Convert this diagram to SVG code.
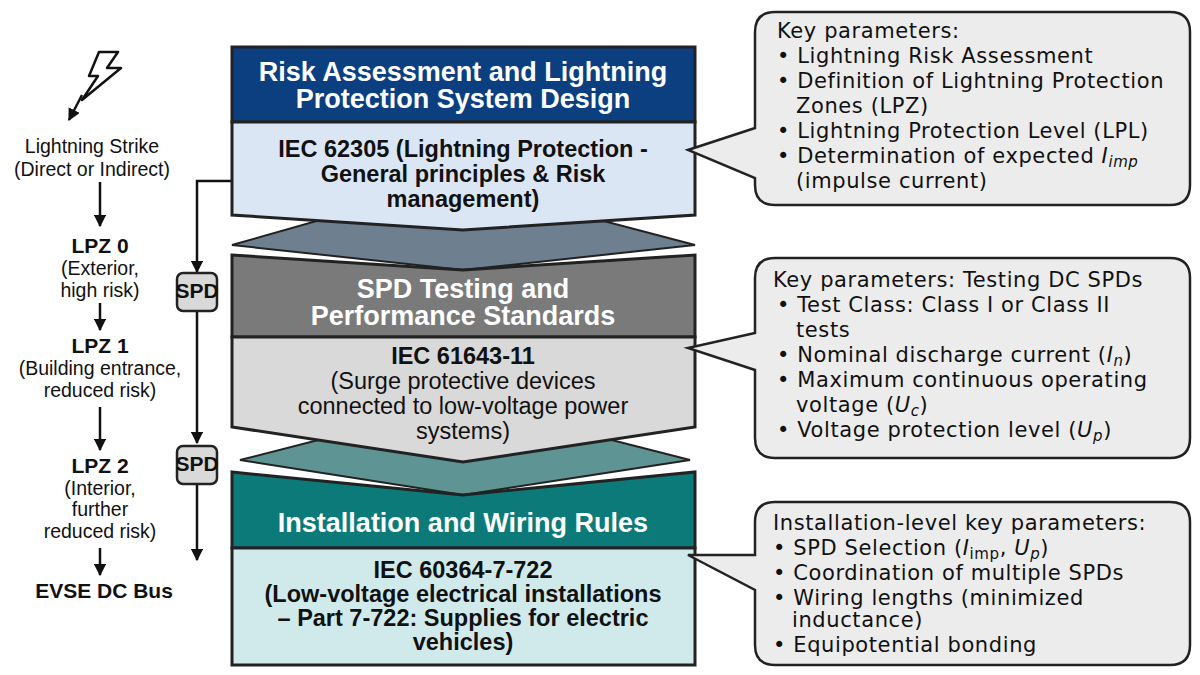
<svg xmlns="http://www.w3.org/2000/svg" width="1200" height="675" viewBox="0 0 1200 675">
<style>
.ln{stroke:#111;stroke-width:2.5;fill:none}
.bx{stroke:#222;stroke-width:3}
.h{font-family:"Liberation Sans",Arial,sans-serif;font-weight:bold;font-size:27px;fill:#fff;text-anchor:middle}
.b{font-family:"Liberation Sans",Arial,sans-serif;font-weight:bold;font-size:23.5px;fill:#111;text-anchor:middle}
.r{font-family:"Liberation Sans",Arial,sans-serif;font-size:23.5px;fill:#111;text-anchor:middle}
.l{font-family:"Liberation Sans",Arial,sans-serif;font-size:19.5px;fill:#111;text-anchor:middle}
.lb{font-family:"Liberation Sans",Arial,sans-serif;font-weight:bold;font-size:21px;fill:#111;text-anchor:middle}
.c{font-family:"DejaVu Sans",Verdana,sans-serif;font-size:21px;letter-spacing:0.6px;fill:#111}
.co{fill:#ececec;stroke:#222;stroke-width:2.5}
.spd{fill:#d9d9d9;stroke:#222;stroke-width:2.5}
</style>
<defs>
<marker id="ah" viewBox="0 0 10 10" refX="9" refY="5" markerWidth="5" markerHeight="5" orient="auto"><path d="M0,0L10,5L0,10z" fill="#111"/></marker>
</defs>
<rect width="1200" height="675" fill="#fff"/>
<g id="connectors">
<polygon points="232,245 320,220 600,220 695,245 463,270" fill="#6e7f8f" stroke="#222" stroke-width="2"/>
<polygon points="240,460 330,437 600,437 690,460 463,495" fill="#5f9494" stroke="#222" stroke-width="2"/>
<path class="ln" d="M82,95 L69,120" marker-end="url(#ah)"/>
<path class="ln" d="M100,182 V226" marker-end="url(#ah)"/>
<path class="ln" d="M100,303 V330" marker-end="url(#ah)"/>
<path class="ln" d="M100,407 V450" marker-end="url(#ah)"/>
<path class="ln" d="M100,548 V575" marker-end="url(#ah)"/>
<path class="ln" d="M232,181 H197 V272" marker-end="url(#ah)"/>
<path class="ln" d="M197,312 V443" marker-end="url(#ah)"/>
<path class="ln" d="M197,484 V560" marker-end="url(#ah)"/>
</g>
<g id="bolt"><polygon points="99,52 118,52 107,68 121,68 82,100 98,76 89,76" fill="#fff" stroke="#111" stroke-width="2.5" stroke-linejoin="round"/></g>
<g id="box1">
<rect class="bx" x="232" y="47" width="463" height="75" fill="#0b3f80"/>
<polygon class="bx" points="232,122 695,122 695,215 463,230 232,215" fill="#dbe6f5"/>
<text class="h" x="463" y="81">Risk Assessment and Lightning</text>
<text class="h" x="463" y="108">Protection System Design</text>
<text class="b" x="463" y="157">IEC 62305 (Lightning Protection -</text>
<text class="b" x="463" y="182">General principles &amp; Risk</text>
<text class="b" x="463" y="207">management)</text>
</g>
<g id="box2">
<polygon class="bx" points="232,255 463,270 695,255 695,337 232,337" fill="#7a7a7a"/>
<polygon class="bx" points="232,337 695,337 695,427 463,462 232,427" fill="#d9d9d9"/>
<text class="h" x="463" y="298">SPD Testing and</text>
<text class="h" x="463" y="325">Performance Standards</text>
<text class="b" x="463" y="364">IEC 61643-11</text>
<text class="r" x="463" y="389">(Surge protective devices</text>
<text class="r" x="463" y="414">connected to low-voltage power</text>
<text class="r" x="463" y="439">systems)</text>
</g>
<g id="box3">
<polygon class="bx" points="232,472 463,495 695,472 695,548 232,548" fill="#0d7a7a"/>
<rect class="bx" x="232" y="548" width="463" height="117" fill="#d0eaec"/>
<text class="h" x="463" y="532">Installation and Wiring Rules</text>
<text class="b" x="463" y="578">IEC 60364-7-722</text>
<text class="b" x="463" y="602">(Low-voltage electrical installations</text>
<text class="b" x="463" y="626">– Part 7-722: Supplies for electric</text>
<text class="b" x="463" y="650">vehicles)</text>
</g>
<g id="left">
<text class="l" x="92" y="153">Lightning Strike</text>
<text class="l" x="92" y="176">(Direct or Indirect)</text>
<text class="lb" x="100" y="253">LPZ 0</text>
<text class="l" x="100" y="275">(Exterior,</text>
<text class="l" x="100" y="297">high risk)</text>
<text class="lb" x="100" y="353">LPZ 1</text>
<text class="l" x="100" y="375">(Building entrance,</text>
<text class="l" x="100" y="397">reduced risk)</text>
<text class="lb" x="100" y="473">LPZ 2</text>
<text class="l" x="100" y="495">(Interior,</text>
<text class="l" x="100" y="516">further</text>
<text class="l" x="100" y="538">reduced risk)</text>
<text class="lb" x="104" y="598" font-size="22">EVSE DC Bus</text>
</g>
<g id="spd1"><rect class="spd" x="177" y="273" width="40" height="38" rx="6"/><text class="lb" x="197" y="298" font-size="16">SPD</text></g>
<g id="spd2"><rect class="spd" x="177" y="446" width="40" height="38" rx="6"/><text class="lb" x="197" y="471" font-size="16">SPD</text></g>
<g id="callout1">
<path class="co" d="M775,12 H1170 Q1190,12 1190,32 V185 Q1190,205 1170,205 H775 Q755,205 755,185 V178 L688,150 L755,128 V32 Q755,12 775,12 Z"/>
<text class="c" x="777" y="38">Key parameters:</text>
<text class="c" x="777" y="63">• Lightning Risk Assessment</text>
<text class="c" x="777" y="88">• Definition of Lightning Protection</text>
<text class="c" x="796" y="113">Zones (LPZ)</text>
<text class="c" x="777" y="138">• Lightning Protection Level (LPL)</text>
<text class="c" x="777" y="163">• Determination of expected <tspan font-style="italic">I<tspan font-size="15" dy="4">imp</tspan></tspan></text>
<text class="c" x="796" y="188">(impulse current)</text>
</g>
<g id="callout2">
<path class="co" d="M775,258 H1170 Q1190,258 1190,278 V438 Q1190,458 1170,458 H775 Q755,458 755,438 V370 L688,348 L755,333 V278 Q755,258 775,258 Z"/>
<text class="c" x="773" y="287">Key parameters:  Testing DC SPDs</text>
<text class="c" x="777" y="312">• Test Class: Class I or Class II</text>
<text class="c" x="796" y="337">tests</text>
<text class="c" x="777" y="362">• Nominal discharge current (<tspan font-style="italic">I<tspan font-size="15" dy="4">n</tspan></tspan><tspan dy="-4">)</tspan></text>
<text class="c" x="777" y="387">• Maximum continuous operating</text>
<text class="c" x="796" y="412">voltage (<tspan font-style="italic">U<tspan font-size="15" dy="4">c</tspan></tspan><tspan dy="-4">)</tspan></text>
<text class="c" x="777" y="437">• Voltage protection level (<tspan font-style="italic">U<tspan font-size="15" dy="4">p</tspan></tspan><tspan dy="-4">)</tspan></text>
</g>
<g id="callout3">
<path class="co" d="M775,502 H1170 Q1190,502 1190,522 V645 Q1190,665 1170,665 H775 Q755,665 755,645 V590 L688,555 L755,555 V522 Q755,502 775,502 Z"/>
<text class="c" x="773" y="530">Installation-level key parameters:</text>
<text class="c" x="773" y="555">• SPD Selection (<tspan font-style="italic">I</tspan><tspan font-size="15" dy="4">imp</tspan><tspan dy="-4">, </tspan><tspan font-style="italic">U<tspan font-size="15" dy="4">p</tspan></tspan><tspan dy="-4">)</tspan></text>
<text class="c" x="773" y="580">• Coordination of multiple SPDs</text>
<text class="c" x="773" y="605">• Wiring lengths (minimized</text>
<text class="c" x="792" y="627">inductance)</text>
<text class="c" x="773" y="652">• Equipotential bonding</text>
</g>
</svg>
